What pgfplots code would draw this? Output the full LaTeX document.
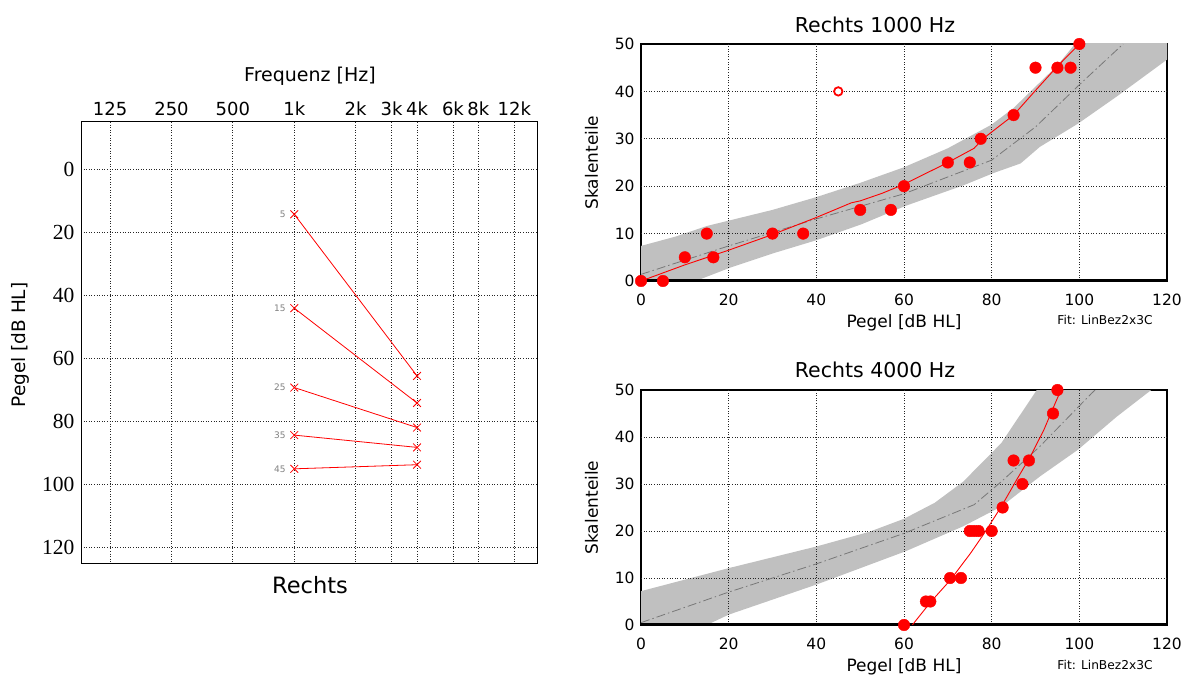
\documentclass[border=0pt]{standalone}
\usepackage{fontspec}
\setsansfont{DejaVu Sans}
\newfontfamily\serifnum{Liberation Serif}
\usepackage{pgfplots}
\pgfplotsset{compat=1.18}
\definecolor{band}{RGB}{192,192,192}
\definecolor{mred}{RGB}{255,0,0}
\definecolor{cline}{RGB}{120,120,120}
\pgfplotsset{
  gridline/.style={black!85, line width=0.9pt, dash pattern=on 1pt off 1.6pt, forget plot},
  mygrid/.style={grid=major, major grid style={black!85, line width=0.9pt, dash pattern=on 1pt off 1.6pt}},
  rightax/.style={
    anchor=south west, scale only axis, width=526pt,
    xmin=0, xmax=120, ymin=0, ymax=50,
    xtick={0,20,...,120}, ytick={0,10,...,50},
    major tick length=0pt,
    axis line style={black, line width=1.2pt},
    tick label style={font=\sffamily\fontsize{15.5}{18}\selectfont},
    /pgf/number format/assume math mode=true,
    xticklabel style={yshift=-9pt},
    yticklabel style={xshift=-3pt},
  },
}
\begin{document}
\begin{tikzpicture}
\path[use as bounding box] (0pt,0pt) rectangle (1189pt,680pt);

% ---------------- left audiogram ----------------
\begin{axis}[
  at={(81pt,117pt)}, anchor=south west, scale only axis, width=456pt, height=441pt,
  xmode=log, log basis x=2, xmin=90, xmax=15500,
  y dir=reverse, ymin=-15, ymax=125,
  xtick={125,250,500,1000,2000,3000,4000,6000,8000,12000},
  xticklabels={125,250,500,1k,2k,3k,4k,6k,8k,12k},
  xticklabel pos=upper,
  ytick={0,20,...,120},
  major tick length=0pt, mygrid,
  axis line style={black, line width=1pt},
  /pgf/number format/assume math mode=true,
  xticklabel style={font=\sffamily\fontsize{18}{20}\selectfont, yshift=3pt},
  yticklabel style={font=\serifnum\fontsize{21.5}{24}\selectfont, xshift=-3pt},
  clip=false,
]
\addplot[mred, line width=0.8pt, mark=x, mark size=5.5pt] coordinates {(1000,14.3) (4000,65.6)}
  node[pos=0, anchor=east, xshift=-5pt, text=gray, font=\sffamily\fontsize{9}{10}\selectfont]{5};
\addplot[mred, line width=0.8pt, mark=x, mark size=5.5pt] coordinates {(1000,44.1) (4000,74.2)}
  node[pos=0, anchor=east, xshift=-5pt, text=gray, font=\sffamily\fontsize{9}{10}\selectfont]{15};
\addplot[mred, line width=0.8pt, mark=x, mark size=5.5pt] coordinates {(1000,69.3) (4000,82.0)}
  node[pos=0, anchor=east, xshift=-5pt, text=gray, font=\sffamily\fontsize{9}{10}\selectfont]{25};
\addplot[mred, line width=0.8pt, mark=x, mark size=5.5pt] coordinates {(1000,84.4) (4000,88.3)}
  node[pos=0, anchor=east, xshift=-5pt, text=gray, font=\sffamily\fontsize{9}{10}\selectfont]{35};
\addplot[mred, line width=0.8pt, mark=x, mark size=5.5pt] coordinates {(1000,95.1) (4000,93.8)}
  node[pos=0, anchor=east, xshift=-5pt, text=gray, font=\sffamily\fontsize{9}{10}\selectfont]{45};
\end{axis}
\node[font=\sffamily\fontsize{19}{22}\selectfont] at (310pt,604pt) {Frequenz [Hz]};
\node[font=\sffamily\fontsize{18.5}{22}\selectfont, rotate=90] at (20pt,335pt) {Pegel [dB HL]};
\node[font=\sffamily\fontsize{22.5}{26}\selectfont] at (310pt,95pt) {Rechts};

% ---------------- top right: 1000 Hz ----------------
\begin{axis}[rightax, at={(641pt,399pt)}, height=237pt]
\addplot[fill=band, draw=none, forget plot] coordinates {
(0,-4.5) (0,7.4) (8,9.4) (15,11.6) (30,15) (40,17.7) (50,20.7) (60,24) (70,28) (80,33) (85,36.5) (90,41) (95,45.5) (99,50) (104,54)
(126,54) (126,50.5) (120,46.7) (108.5,38.9) (99.7,33.2) (91,28.3) (86.6,24.8) (80.5,22.8) (73.6,20.2) (60.5,15.9) (50.4,12) (40,8.6) (30,5.8) (20.3,2.8) (12.5,0) (0,-4.5)};
\pgfplotsinvokeforeach{20,40,60,80,100}{\addplot[gridline] coordinates {(#1,0) (#1,50)};}
\pgfplotsinvokeforeach{10,20,30,40}{\addplot[gridline] coordinates {(0,#1) (120,#1)};}
\addplot[cline, line width=0.8pt, dash pattern=on 9pt off 3pt on 1.5pt off 3pt] coordinates {
(0,1.4) (20,7.4) (40,13.1) (60,18.4) (80,25.5) (90,32.5) (100,41.4) (110,50)};
\addplot[black, line width=4pt, forget plot] coordinates {(0,0) (120,0)};
\addplot[mred, line width=0.9pt] coordinates {
(0,0) (5,1.7) (10,3.4) (20,6.5) (30,9.8) (40,13.4) (48,16.5) (50,16.9) (55,18.5) (60,20.4) (70,25) (76,28) (78,30) (85,35) (90,40.2) (95,45.3) (100,50)};
\addplot[only marks, mark=*, mark size=5.8pt, color=mred] table {
x y
0 0
5 0
10 5
15 10
16.5 5
30 10
37 10
50 15
57 15
60 20
70 25
75 25
77.5 30
85 35
90 45
95 45
98 45
100 50
};
\addplot[only marks, mark=*, mark size=4.2pt, mark options={draw=mred, fill=white, line width=1.8pt}] coordinates {(45,40)};
\end{axis}
\node[font=\sffamily\fontsize{20.5}{24}\selectfont] at (875pt,655pt) {Rechts 1000 Hz};
\node[font=\sffamily\fontsize{17}{20}\selectfont] at (904pt,357pt) {Pegel [dB HL]};
\node[font=\sffamily\fontsize{12.2}{14}\selectfont] at (1105pt,360pt) {Fit: LinBez2x3C};
\node[font=\sffamily\fontsize{17}{20}\selectfont, rotate=90] at (591.5pt,517.5pt) {Skalenteile};

% ---------------- bottom right: 4000 Hz ----------------
\begin{axis}[rightax, at={(641pt,55pt)}, height=235pt]
\addplot[fill=band, draw=none, forget plot] coordinates {
(0,-5) (0,7.2) (20,12.1) (40,16.7) (52,19.8) (60,22.6) (67,26) (73.5,30.5) (82.2,38.7) (90,49.6) (93,54) (121,54)
(116.4,50) (108.5,44.3) (99.7,37.3) (91,31.6) (82.2,25.2) (73.5,21) (60.4,15.7) (40,8.6) (20,2.2) (15,0) (0,-5)};
\pgfplotsinvokeforeach{20,40,60,80,100}{\addplot[gridline] coordinates {(#1,0) (#1,50)};}
\pgfplotsinvokeforeach{10,20,30,40}{\addplot[gridline] coordinates {(0,#1) (120,#1)};}
\addplot[cline, line width=0.8pt, dash pattern=on 9pt off 3pt on 1.5pt off 3pt] coordinates {
(0,0.5) (20,7) (40,13) (60,19.5) (76,25.6) (82.2,30.5) (91,38) (102.8,49.3) (103.6,50)};
\addplot[black, line width=4pt, forget plot] coordinates {(0,0) (120,0)};
\addplot[mred, line width=0.9pt] coordinates {
(61.9,0) (66,4.8) (70.6,9.6) (75.2,15.3) (78.3,19.5) (82.2,25.2) (85.7,30.9) (88.8,35.8) (91.9,41.5) (94.5,47.2) (95.8,50)};
\addplot[only marks, mark=*, mark size=5.8pt, color=mred] table {
x y
60 0
65 5
66 5
70.5 10
73 10
75 20
76 20
77 20
80 20
82.5 25
85 35
87 30
88.5 35
94 45
95 50
};
\end{axis}
\node[font=\sffamily\fontsize{20.5}{24}\selectfont] at (875pt,310.5pt) {Rechts 4000 Hz};
\node[font=\sffamily\fontsize{17}{20}\selectfont] at (904pt,13pt) {Pegel [dB HL]};
\node[font=\sffamily\fontsize{12.2}{14}\selectfont] at (1105pt,15pt) {Fit: LinBez2x3C};
\node[font=\sffamily\fontsize{17}{20}\selectfont, rotate=90] at (591.5pt,172.5pt) {Skalenteile};
\end{tikzpicture}
\end{document}
